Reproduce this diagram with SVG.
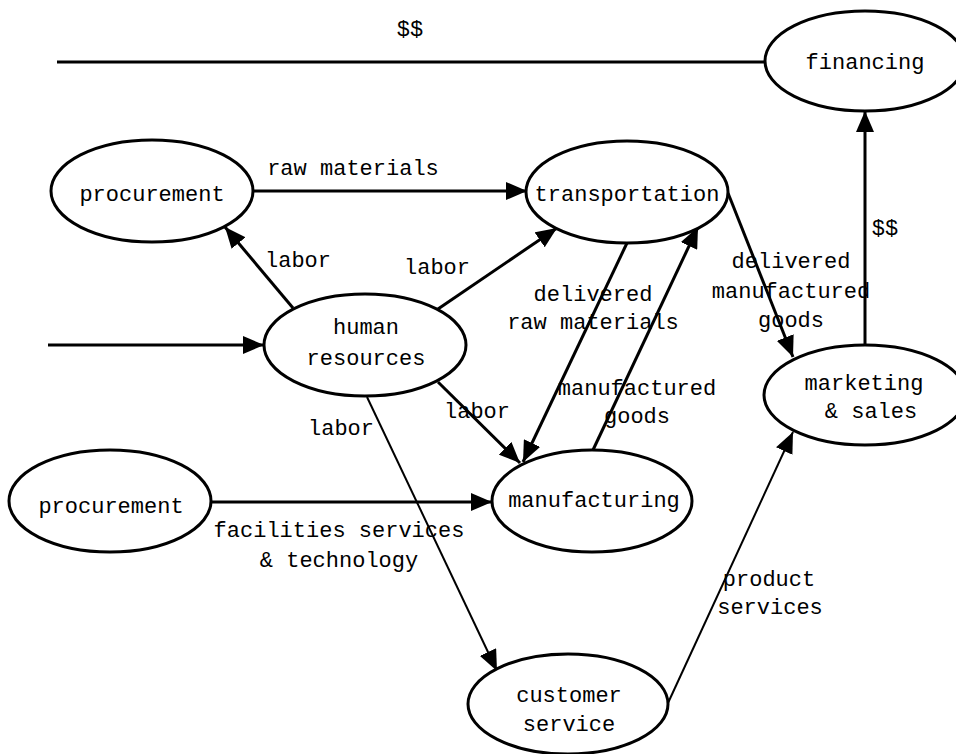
<svg xmlns="http://www.w3.org/2000/svg" width="956" height="754" viewBox="0 0 956 754">
  <style>
    .node ellipse { fill: #fff; stroke: #000; stroke-width: 3; }
    text { font-family: "Liberation Mono", "Courier New", monospace; font-size: 22px; fill: #000; text-anchor: middle; }
    .edge { fill: none; stroke: #000; stroke-width: 3; }
    .thin { stroke-width: 2; }
    .arr { marker-end: url(#head); }
  </style>
  <defs>
    <marker id="head" markerUnits="userSpaceOnUse" markerWidth="22" markerHeight="18" refX="21" refY="9" orient="auto">
      <path d="M0,0 L21,9 L0,18 Z" fill="#000"/>
    </marker>
  </defs>
  <rect width="956" height="754" fill="#fff"/>

  <!-- connectors -->
  <g id="connectors">
    <line class="edge" x1="57" y1="62" x2="766" y2="62"/>
    <line class="edge arr" x1="48" y1="345" x2="264" y2="345"/>
    <line class="edge arr" x1="253" y1="191" x2="527" y2="191"/>
    <line class="edge arr" x1="293" y1="308" x2="225" y2="227"/>
    <line class="edge arr" x1="438" y1="309" x2="557" y2="228"/>
    <line class="edge arr" x1="438" y1="382" x2="520" y2="463"/>
    <line class="edge thin arr" x1="367" y1="397" x2="497" y2="671"/>
    <line class="edge arr" x1="211" y1="502" x2="492" y2="502"/>
    <line class="edge arr" x1="627" y1="243" x2="523" y2="462"/>
    <line class="edge arr" x1="593" y1="450" x2="698" y2="227"/>
    <line class="edge arr" x1="728" y1="193" x2="793" y2="357"/>
    <line class="edge thin arr" x1="668" y1="703" x2="793" y2="432"/>
    <line class="edge arr" x1="865" y1="345" x2="865" y2="111"/>

    <text x="410" y="36">$$</text>
    <text x="353" y="175">raw materials</text>
    <text x="298" y="267">labor</text>
    <text x="437" y="274">labor</text>
    <text x="477" y="418">labor</text>
    <text x="341" y="435">labor</text>
    <text x="593" y="301">delivered</text>
    <text x="593" y="329">raw materials</text>
    <text x="637" y="395">manufactured</text>
    <text x="637" y="423">goods</text>
    <text x="791" y="268">delivered</text>
    <text x="791" y="298">manufactured</text>
    <text x="791" y="327">goods</text>
    <text x="885" y="235">$$</text>
    <text x="339" y="537">facilities services</text>
    <text x="339" y="567">&amp; technology</text>
    <text x="769" y="586">product</text>
    <text x="770" y="614">services</text>
  </g>

  <g id="financing" class="node">
    <ellipse cx="865" cy="61" rx="100" ry="50"/>
    <text x="865" y="69">financing</text>
  </g>
  <g id="procurement-materials" class="node">
    <ellipse cx="152" cy="191" rx="101" ry="51"/>
    <text x="152" y="201">procurement</text>
  </g>
  <g id="transportation" class="node">
    <ellipse cx="627" cy="192" rx="101" ry="51"/>
    <text x="627" y="201">transportation</text>
  </g>
  <g id="human-resources" class="node">
    <ellipse cx="365" cy="345" rx="101" ry="51"/>
    <text x="366" y="334">human</text>
    <text x="366" y="365">resources</text>
  </g>
  <g id="marketing-sales" class="node">
    <ellipse cx="865" cy="395" rx="101" ry="50"/>
    <text x="864" y="390">marketing</text>
    <text x="871" y="418">&amp; sales</text>
  </g>
  <g id="procurement-facilities" class="node">
    <ellipse cx="110" cy="501" rx="101" ry="51"/>
    <text x="111" y="513">procurement</text>
  </g>
  <g id="manufacturing" class="node">
    <ellipse cx="592" cy="501" rx="100" ry="51"/>
    <text x="594" y="507">manufacturing</text>
  </g>
  <g id="customer-service" class="node">
    <ellipse cx="568" cy="704" rx="100" ry="50"/>
    <text x="569" y="702">customer</text>
    <text x="569" y="731">service</text>
  </g>
</svg>
